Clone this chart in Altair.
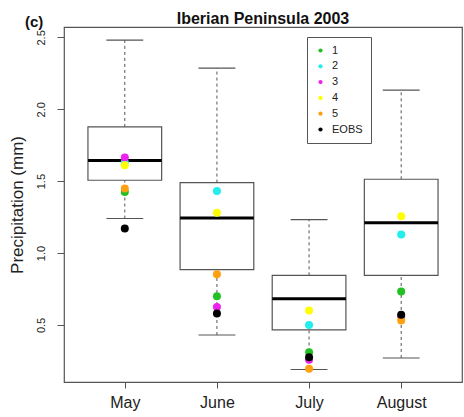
import altair as alt
import pandas as pd

months = ["May", "June", "July", "August"]
positions = [1, 2, 3, 4]
whisker_lo = [1.24, 0.43, 0.19, 0.27]
q1 = [1.506, 0.884, 0.466, 0.845]
median = [1.643, 1.244, 0.682, 1.21]
q3 = [1.877, 1.49, 0.845, 1.513]
whisker_hi = [2.481, 2.286, 1.233, 2.133]

series_names = ["1", "2", "3", "4", "5", "EOBS"]
series_colors = ["#22C022", "#22EEEE", "#EE22EE", "#FFFF00", "#FFA010", "#000000"]
member_1 = [1.425, 0.70, 0.31, 0.733]
member_2 = [1.63, 1.432, 0.50, 1.128]
member_3 = [1.664, 0.624, 0.258, 0.56]
member_4 = [1.611, 1.28, 0.601, 1.256]
member_5 = [1.448, 0.852, 0.195, 0.531]
eobs = [1.17, 0.58, 0.276, 0.57]

title_text = "Iberian Peninsula 2003"
panel_text = "(c)"

box_df = pd.DataFrame({
    "month": months, "pos": positions, "lo": whisker_lo, "q1": q1,
    "med": median, "q3": q3, "hi": whisker_hi,
})

rows = []
for k, (name, vals) in enumerate(zip(series_names, [member_1, member_2, member_3, member_4, member_5, eobs])):
    for p, v in zip(positions, vals):
        rows.append({"series": name, "pos": p, "value": v, "ord": k})
pts_df = pd.DataFrame(rows)

FONT = "Liberation Sans"
GRAY = "#555555"

xscale = alt.Scale(domain=[0.34, 4.66], nice=False, zero=False)
yscale = alt.Scale(domain=[0.103, 2.572], nice=False, zero=False)

xaxis = alt.Axis(
    values=positions, title=None, grid=False, domain=False,
    labelExpr="['','May','June','July','August'][datum.value]",
    labelFontSize=16, labelFont=FONT, labelColor="#222222", tickSize=6,
    tickColor=GRAY, labelPadding=6,
)
yaxis = alt.Axis(
    values=[0.5, 1.0, 1.5, 2.0, 2.5], format=".1f", title="Precipitation (mm)",
    grid=False, domain=False, labelAngle=270, labelFontSize=11, labelFont=FONT,
    labelColor="#222222", tickSize=7, tickColor=GRAY, labelPadding=11,
    titleFont=FONT, titleFontSize=17, titleFontWeight="normal", titleColor="#222222",
    titlePadding=9,
)

base = alt.Chart(box_df).encode(
    x=alt.X("pos:Q", scale=xscale, axis=xaxis)
)

whisk_up = base.mark_rule(color=GRAY, strokeDash=[3, 3], strokeWidth=1).encode(
    y=alt.Y("q3:Q", scale=yscale, axis=yaxis), y2="hi:Q"
)
whisk_dn = base.mark_rule(color=GRAY, strokeDash=[3, 3], strokeWidth=1).encode(
    y=alt.Y("lo:Q"), y2="q1:Q"
)

caps_base = alt.Chart(box_df).transform_calculate(
    cl="datum.pos - 0.2", cr="datum.pos + 0.2",
    bl="datum.pos - 0.4", br="datum.pos + 0.4",
)
cap_hi = caps_base.mark_rule(color=GRAY, strokeWidth=1.2).encode(
    x=alt.X("cl:Q", scale=xscale), x2="cr:Q", y=alt.Y("hi:Q", scale=yscale)
)
cap_lo = caps_base.mark_rule(color=GRAY, strokeWidth=1.2).encode(
    x=alt.X("cl:Q", scale=xscale), x2="cr:Q", y=alt.Y("lo:Q", scale=yscale)
)
boxes = caps_base.mark_rect(fill="white", stroke=GRAY, strokeWidth=1.2).encode(
    x=alt.X("bl:Q", scale=xscale), x2="br:Q",
    y=alt.Y("q1:Q", scale=yscale), y2="q3:Q",
)
meds = caps_base.mark_rule(color="black", strokeWidth=3).encode(
    x=alt.X("bl:Q", scale=xscale), x2="br:Q", y=alt.Y("med:Q", scale=yscale)
)

points = alt.Chart(pts_df).mark_circle(size=64, opacity=1).encode(
    x=alt.X("pos:Q", scale=xscale),
    y=alt.Y("value:Q", scale=yscale),
    color=alt.Color(
        "series:N",
        scale=alt.Scale(domain=series_names, range=series_colors),
        legend=alt.Legend(
            title=None, orient="none", legendX=243, legendY=10,
            fillColor="white", strokeColor=GRAY, padding=8,
            symbolType="circle", symbolSize=18, labelFont=FONT,
            labelFontSize=11, labelColor="#222222", rowPadding=3.8,
            labelOffset=6, symbolStrokeWidth=0,
        ),
    ),
    order=alt.Order("ord:Q"),
)

text_df = pd.DataFrame({"t": [panel_text]})
panel_label = alt.Chart(text_df).mark_text(
    align="left", baseline="alphabetic", fontSize=15, fontWeight="bold",
    font=FONT, color="#111111",
).encode(x=alt.value(-39), y=alt.value(0), text="t:N")

title_df = pd.DataFrame({"t": [title_text]})
title_mark = alt.Chart(title_df).mark_text(
    align="center", baseline="alphabetic", fontSize=16, fontWeight="bold",
    font=FONT, color="#111111",
).encode(x=alt.value(199), y=alt.value(-3), text="t:N")

chart = alt.layer(
    whisk_up, whisk_dn, cap_hi, cap_lo, boxes, meds, points, panel_label, title_mark
).properties(
    width=398, height=355,
    padding={"left": 64, "top": 27, "right": 2, "bottom": 35},
    autosize=alt.AutoSizeParams(type="none"),
).configure_view(stroke=GRAY, strokeWidth=1.2)

chart.save("out.html", embed_options={"renderer": "svg", "actions": False})
